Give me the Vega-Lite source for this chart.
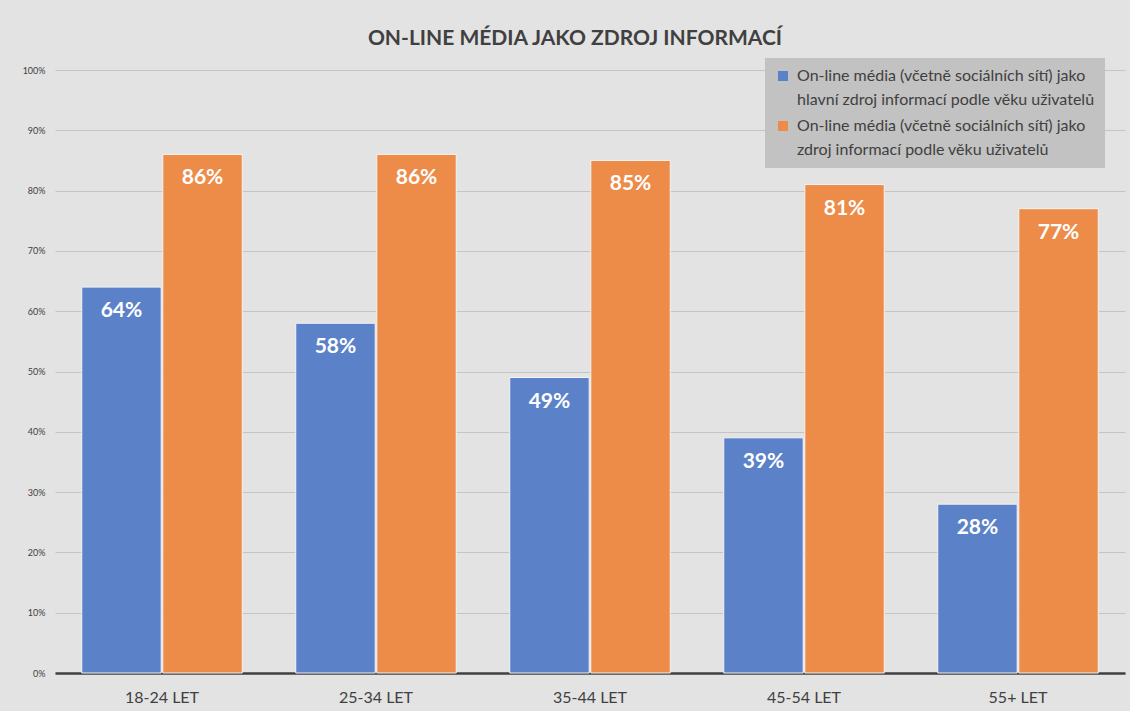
{
  "$schema": "https://vega.github.io/schema/vega-lite/v6.json",
  "width": 1070,
  "height": 603,
  "autosize": {"type": "none"},
  "padding": {"left": 55, "top": 70, "right": 5, "bottom": 38},
  "background": "#e3e3e3",
  "title": {
    "text": "ON-LINE MÉDIA JAKO ZDROJ INFORMACÍ",
    "anchor": "middle",
    "font": "Lato",
    "fontSize": 21,
    "fontWeight": "bold",
    "color": "#404040",
    "offset": 9,
    "dx": -15
  },
  "data": {
    "values": [
      {"vek": "18-24 LET", "serie": "On-line média (včetně sociálních sítí) jako hlavní zdroj informací podle věku uživatelů", "hodnota": 0.64},
      {"vek": "18-24 LET", "serie": "On-line média (včetně sociálních sítí) jako zdroj informací podle věku uživatelů", "hodnota": 0.86},
      {"vek": "25-34 LET", "serie": "On-line média (včetně sociálních sítí) jako hlavní zdroj informací podle věku uživatelů", "hodnota": 0.58},
      {"vek": "25-34 LET", "serie": "On-line média (včetně sociálních sítí) jako zdroj informací podle věku uživatelů", "hodnota": 0.86},
      {"vek": "35-44 LET", "serie": "On-line média (včetně sociálních sítí) jako hlavní zdroj informací podle věku uživatelů", "hodnota": 0.49},
      {"vek": "35-44 LET", "serie": "On-line média (včetně sociálních sítí) jako zdroj informací podle věku uživatelů", "hodnota": 0.85},
      {"vek": "45-54 LET", "serie": "On-line média (včetně sociálních sítí) jako hlavní zdroj informací podle věku uživatelů", "hodnota": 0.39},
      {"vek": "45-54 LET", "serie": "On-line média (včetně sociálních sítí) jako zdroj informací podle věku uživatelů", "hodnota": 0.81},
      {"vek": "55+ LET", "serie": "On-line média (včetně sociálních sítí) jako hlavní zdroj informací podle věku uživatelů", "hodnota": 0.28},
      {"vek": "55+ LET", "serie": "On-line média (včetně sociálních sítí) jako zdroj informací podle věku uživatelů", "hodnota": 0.77}
    ]
  },
  "encoding": {
    "x": {
      "field": "vek",
      "type": "nominal",
      "sort": null,
      "title": null,
      "scale": {"paddingInner": 0.25, "paddingOuter": 0.125},
      "axis": {
        "labelAngle": 0,
        "labelFont": "Lato",
        "labelFontSize": 16,
        "labelColor": "#404040",
        "labelPadding": 16,
        "ticks": false,
        "domainColor": "#404040",
        "domainWidth": 2.5,
        "grid": false
      }
    },
    "xOffset": {
      "field": "serie",
      "type": "nominal",
      "sort": null,
      "scale": {"paddingInner": 0.02}
    },
    "y": {
      "field": "hodnota",
      "type": "quantitative",
      "title": null,
      "scale": {"domain": [0, 1], "nice": false},
      "axis": {
        "format": ".0%",
        "values": [0, 0.1, 0.2, 0.3, 0.4, 0.5, 0.6, 0.7, 0.8, 0.9, 1],
        "labelFont": "Lato",
        "labelFontSize": 9,
        "labelColor": "#404040",
        "labelPadding": 10,
        "ticks": false,
        "domain": false,
        "gridColor": "#c4c4c4",
        "gridWidth": 1.2
      }
    }
  },
  "layer": [
    {
      "mark": {"type": "bar", "stroke": "#f4f4f4", "strokeWidth": 1},
      "encoding": {
        "color": {
          "field": "serie",
          "type": "nominal",
          "sort": null,
          "title": null,
          "scale": {"range": ["#5b82c9", "#ed8b49"]},
          "legend": {
            "orient": "none",
            "legendX": 710,
            "legendY": -12,
            "fillColor": "#c2c2c2",
            "padding": 10,
            "symbolType": "square",
            "symbolSize": 100,
            "symbolStrokeWidth": 0,
            "labelFont": "Lato",
            "labelFontSize": 16,
            "labelColor": "#404040",
            "labelLimit": 0,
            "labelOffset": 6,
            "rowPadding": 10,
            "labelExpr": "[slice(datum.label, 0, indexof(datum.label, 'jako') + 4), slice(datum.label, indexof(datum.label, 'jako') + 5)]"
          }
        }
      }
    },
    {
      "mark": {
        "type": "text",
        "baseline": "top",
        "dy": 13,
        "color": "white",
        "font": "Lato",
        "fontSize": 21,
        "fontWeight": "bold"
      },
      "encoding": {
        "text": {"field": "hodnota", "type": "quantitative", "format": ".0%"}
      }
    }
  ],
  "config": {
    "view": {"stroke": null},
    "style": {"guide-label": {"lineHeight": 24}}
  }
}
